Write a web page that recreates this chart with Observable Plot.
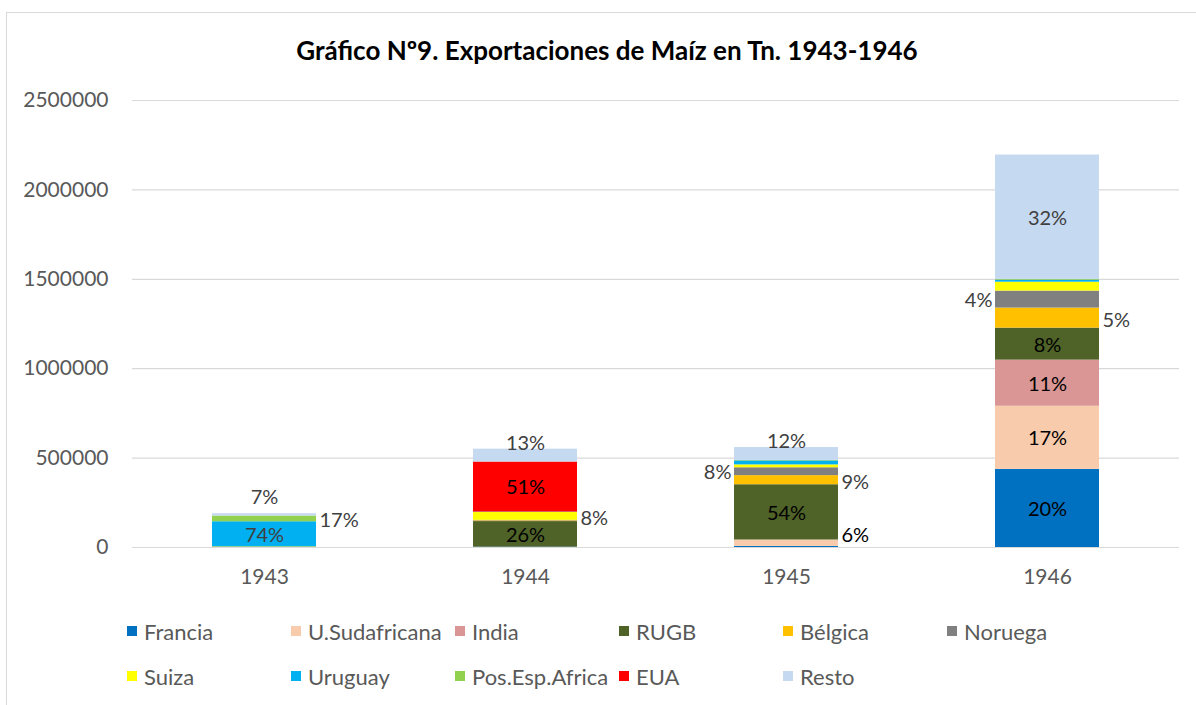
<!DOCTYPE html>
<html>
<head>
<meta charset="utf-8">
<script src="https://cdn.jsdelivr.net/npm/d3@7"></script>
<script src="https://cdn.jsdelivr.net/npm/@observablehq/plot@0.6"></script>
<style>
  html, body { margin: 0; padding: 0; background: #fff; }
  body { width: 1196px; height: 705px; overflow: hidden; position: relative; font-family: Lato, "Open Sans", sans-serif; }
  #frame { position: absolute; left: 6px; top: 12px; width: 1202px; height: 720px; border: 1px solid #d9d9d9; box-sizing: border-box; }
  #title { position: absolute; left: 6px; width: 1202px; top: 33px; text-align: center; font-weight: 700; font-size: 26px; color: #000; line-height: 34px; }
  #chart { position: absolute; left: 0; top: 80px; }
  #legend { position: absolute; left: 127px; top: 618px; width: 1000px; }
  .row { height: 45px; display: flex; }
  .item { width: 164px; display: flex; align-items: center; height: 26px; font-size: 22px; color: #595959; white-space: nowrap; }
  .sw { width: 10px; height: 10px; margin-right: 7px; flex: none; }
</style>
</head>
<body>
<div id="frame"></div>
<div id="title">Gráfico Nº9. Exportaciones de Maíz en Tn. 1943-1946</div>
<div id="chart"></div>
<div id="legend"></div>
<script>
// ---- data ----
const years = ["1943", "1944", "1945", "1946"];
const seriesNames = ["Francia", "U.Sudafricana", "India", "RUGB", "Bélgica", "Noruega", "Suiza", "Uruguay", "Pos.Esp.Africa", "EUA", "Resto"];
const seriesColors = ["#0070C0", "#F8CBAD", "#DA9694", "#4F6228", "#FFC000", "#808080", "#FFFF00", "#00B0F0", "#92D050", "#FF0000", "#C5D9F1"];

const francia      = [0,      2000,   6000,   437000];
const uSudafricana = [0,      0,      36000,  353000];
const india        = [0,      0,      0,      258000];
const rugb         = [2000,   143000, 309000, 179000];
const belgica      = [0,      4000,   51000,  112000];
const noruega      = [0,      3000,   44000,  95000];
const suiza        = [2000,   44000,  16000,  50000];
const uruguay      = [140000, 2000,   22000,  11000];
const posEspAfrica = [32000,  0,      3000,   5000];
const eua          = [0,      280000, 0,      0];
const resto        = [13000,  72000,  72000,  695000];

const yTicks = [0, 500000, 1000000, 1500000, 2000000, 2500000];

const labelYears  = ["1943", "1943", "1943", "1944", "1944", "1944", "1944", "1945", "1945", "1945", "1945", "1945", "1946", "1946", "1946", "1946", "1946", "1946", "1946"];
const labelSeries = ["Uruguay", "Pos.Esp.Africa", "Resto", "RUGB", "Suiza", "EUA", "Resto", "U.Sudafricana", "RUGB", "Bélgica", "Noruega", "Resto", "Francia", "U.Sudafricana", "India", "RUGB", "Bélgica", "Noruega", "Resto"];
const labelTexts  = ["74%", "17%", "7%", "26%", "8%", "51%", "13%", "6%", "54%", "9%", "8%", "12%", "20%", "17%", "11%", "8%", "5%", "4%", "32%"];
const labelPlaces = ["in", "right", "above", "in", "right", "in", "top", "rightUp", "in", "right", "left", "top", "in", "in", "in", "in", "right", "left", "in"];

// ---- build table ----
const seriesValues = [francia, uSudafricana, india, rugb, belgica, noruega, suiza, uruguay, posEspAfrica, eua, resto];
const rows = [];
seriesNames.forEach((s, i) => years.forEach((y, j) => rows.push({series: s, year: y, value: seriesValues[i][j]})));

const labelMap = new Map();
labelTexts.forEach((t, i) => labelMap.set(labelYears[i] + "|" + labelSeries[i], {text: t, place: labelPlaces[i]}));

const blackLabelSeries = new Set(["Francia", "U.Sudafricana", "India", "RUGB", "EUA"]);

const placeCfg = {
  in:      {stack: Plot.stackY,  dx: 0,   dy: 1,   anchor: "middle"},
  right:   {stack: Plot.stackY,  dx: 55,  dy: 2,   anchor: "start"},
  rightUp: {stack: Plot.stackY,  dx: 55,  dy: -8,  anchor: "start"},
  left:    {stack: Plot.stackY,  dx: -55, dy: 1,   anchor: "end"},
  top:     {stack: Plot.stackY2, dx: 0,   dy: -6,  anchor: "middle"},
  above:   {stack: Plot.stackY2, dx: 0,   dy: -16, anchor: "middle"}
};

const textMarks = [];
for (const [place, cfg] of Object.entries(placeCfg)) {
  for (const dark of [true, false]) {
    textMarks.push(Plot.text(rows, cfg.stack({
      x: "year", y: "value", z: "series", order: seriesNames,
      text: d => {
        const l = labelMap.get(d.year + "|" + d.series);
        if (!l || l.place !== place) return null;
        if (blackLabelSeries.has(d.series) !== dark) return null;
        return l.text;
      },
      fill: dark ? "#000000" : "#404040",
      dx: cfg.dx, dy: cfg.dy, textAnchor: cfg.anchor,
      fontSize: 20, fontFamily: "Lato"
    })));
  }
}

const chart = Plot.plot({
  width: 1196,
  height: 530,
  marginTop: 20,
  marginBottom: 63,
  marginLeft: 132,
  marginRight: 17,
  style: {fontFamily: "Lato", fontSize: "20px", color: "#595959", background: "transparent"},
  x: {type: "band", domain: years, paddingInner: 0.6, paddingOuter: 0.3, axis: null},
  y: {domain: [0, 2500000], axis: null},
  color: {domain: seriesNames, range: seriesColors},
  marks: [
    Plot.gridY(yTicks, {stroke: "#d9d9d9", strokeOpacity: 1, strokeWidth: 1.2}),
    Plot.barY(rows, {x: "year", y: "value", fill: "series", z: "series", order: seriesNames}),
    Plot.axisY(yTicks, {tickSize: 0, tickPadding: 24, tickFormat: d3.format("d"), fontSize: 21, label: null, fill: "#595959"}),
    Plot.axisX({tickSize: 0, tickPadding: 22, fontSize: 21, label: null, fill: "#595959"}),
    ...textMarks
  ]
});
document.getElementById("chart").appendChild(chart);

// ---- legend ----
const legend = document.getElementById("legend");
const perRow = 6;
for (let r = 0; r < Math.ceil(seriesNames.length / perRow); r++) {
  const row = document.createElement("div");
  row.className = "row";
  seriesNames.slice(r * perRow, r * perRow + perRow).forEach((s, k) => {
    const idx = r * perRow + k;
    const item = document.createElement("div");
    item.className = "item";
    const sw = document.createElement("span");
    sw.className = "sw";
    sw.style.background = seriesColors[idx];
    const tx = document.createElement("span");
    tx.textContent = s;
    item.appendChild(sw);
    item.appendChild(tx);
    row.appendChild(item);
  });
  legend.appendChild(row);
}
</script>
</body>
</html>
